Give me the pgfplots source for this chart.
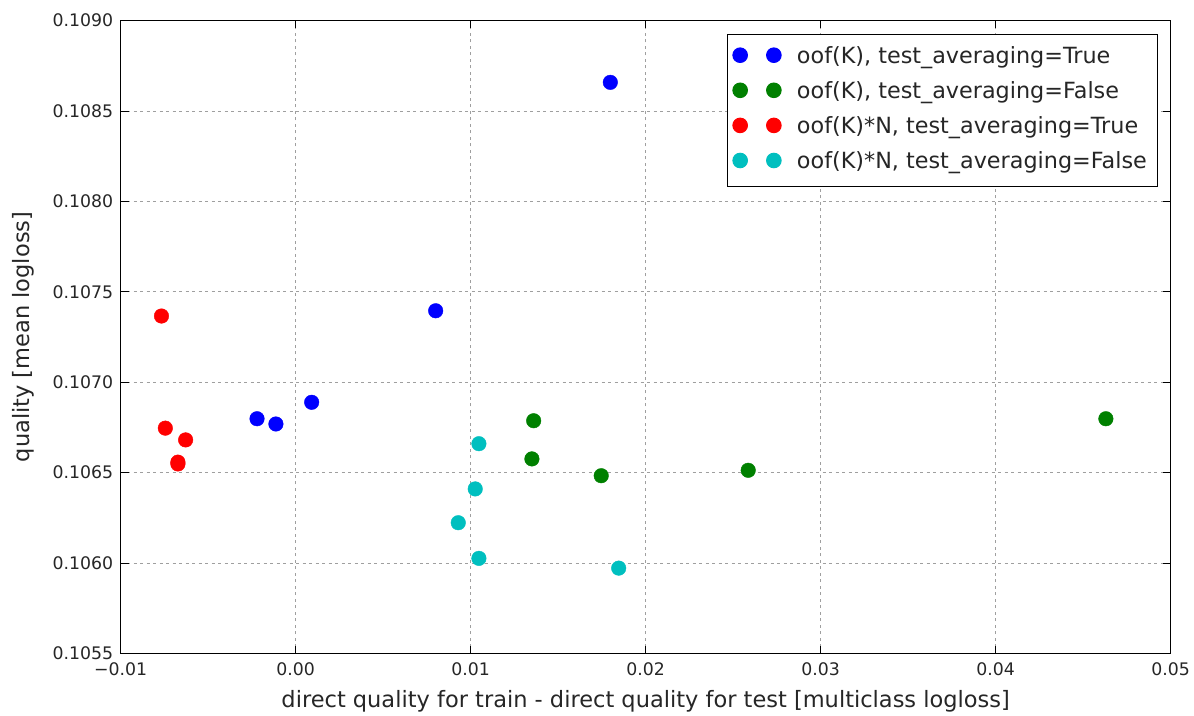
\documentclass[border=0pt]{standalone}
\usepackage{fontspec}
\setmainfont{DejaVu Sans}
\usepackage{pgfplots}
\pgfplotsset{compat=1.18}
\definecolor{mplblue}{rgb}{0,0,1}
\definecolor{mplgreen}{rgb}{0,0.5,0}
\definecolor{mplred}{rgb}{1,0,0}
\definecolor{mplcyan}{rgb}{0,0.75,0.75}
\begin{document}
\begin{tikzpicture}[font=\fontsize{17}{20}\selectfont]
\begin{axis}[
  scale only axis, width=1050pt, height=633pt,
  xmin=-0.01, xmax=0.05, ymin=0.1055, ymax=0.1090,
  xtick={-0.01,0,0.01,0.02,0.03,0.04,0.05},
  xticklabels={−0.01,0.00,0.01,0.02,0.03,0.04,0.05},
  ytick={0.1055,0.1060,0.1065,0.1070,0.1075,0.1080,0.1085,0.1090},
  yticklabels={0.1055,0.1060,0.1065,0.1070,0.1075,0.1080,0.1085,0.1090},
  scaled x ticks=false, scaled y ticks=false,
  tick align=inside, major tick length=8pt,
  tick style={black, line width=0.8pt},
  axis line style={black, line width=1pt},
  grid=major,
  major grid style={gray!75, line width=0.8pt, dash pattern=on 3pt off 3.5pt},
  tick label style={font=\fontsize{17.3}{20}\selectfont, text=black!85},
  xticklabel style={yshift=-5.5pt},
  yticklabel style={xshift=-4pt},
  xlabel={direct quality for train - direct quality for test [multiclass logloss]},
  ylabel={quality [mean logloss]},
  label style={font=\fontsize{22.5}{26}\selectfont, text=black!85},
  xlabel style={at={(axis description cs:0.5,-0.0758)}, anchor=center},
  ylabel style={at={(axis description cs:-0.093,0.5)}, anchor=center},
  legend style={at={(1,1)}, anchor=north east, xshift=-12.7pt, yshift=-13.8pt,
    font=\fontsize{22.3}{26}\selectfont, text=black!85, draw=black, line width=1pt,
    inner xsep=0pt, inner ysep=5.5pt, row sep=0pt, column sep=0pt,
    nodes={inner xsep=0pt, inner ysep=0pt, text height=16.3pt, text depth=0pt}},
  legend cell align=left,
  legend image code/.code={%
    \path[draw=none, fill=none] (-12.3pt,-20.2pt) rectangle (56.8pt,14.9pt);
    \draw[#1, mark repeat=1] plot coordinates {(0pt,0pt) (33.7pt,0pt)};},
  every axis plot/.append style={only marks, mark=*, mark size=7.3pt},
]
\addplot[mark options={draw=mplblue, fill=mplblue}] coordinates {
  (0.01798,0.108658) (0.0080,0.107395) (0.000914,0.106889) (-0.00221,0.106798) (-0.00113,0.106769)};
\addlegendentry{oof(K), test\_averaging=True}
\addplot[mark options={draw=mplgreen, fill=mplgreen}] coordinates {
  (0.0136,0.106787) (0.0135,0.106576) (0.01746,0.106483) (0.02586,0.106513) (0.0463,0.106798)};
\addlegendentry{oof(K), test\_averaging=False}
\addplot[mark options={draw=mplred, fill=mplred}] coordinates {
  (-0.00767,0.107366) (-0.00745,0.106746) (-0.00629,0.106681) (-0.00673,0.106558) (-0.00673,0.106548)};
\addlegendentry{oof(K)*N, test\_averaging=True}
\addplot[mark options={draw=mplcyan, fill=mplcyan}] coordinates {
  (0.01047,0.10666) (0.01026,0.10641) (0.00929,0.106223) (0.01047,0.106026) (0.01846,0.105972)};
\addlegendentry{oof(K)*N, test\_averaging=False\hspace*{10.6pt}}
\end{axis}
\pgfresetboundingbox
\path (current axis.south west) ++(-120.7pt,-61.5pt) rectangle ++(1194pt,715pt);
\end{tikzpicture}
\end{document}
